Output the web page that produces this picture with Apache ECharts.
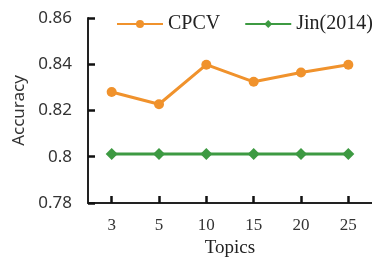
<!DOCTYPE html>
<html>
<head>
<meta charset="utf-8">
<script src="https://cdn.jsdelivr.net/npm/echarts@6/dist/echarts.min.js"></script>
<style>
  html, body { margin: 0; padding: 0; background: #fff; }
  #chart { width: 372px; height: 263px; }
</style>
</head>
<body>
<div id="chart"></div>
<script>
const topics = ['3', '5', '10', '15', '20', '25']
const cpcv = [0.828, 0.8227, 0.8398, 0.8324, 0.8364, 0.8398]
const jin = [0.8012, 0.8012, 0.8012, 0.8012, 0.8012, 0.8012]

const chart = echarts.init(document.getElementById('chart'), null, { renderer: 'canvas' })
chart.setOption({
  animation: false,
  grid: { left: 88, top: 18, width: 294, height: 190 },
  legend: {
    orient: 'horizontal',
    top: 14,
    left: 116,
    width: 300,
    padding: 0,
    itemGap: 24,
    itemWidth: 46,
    itemHeight: 10,
    textStyle: { fontFamily: 'Liberation Serif', fontSize: 20, color: '#222' },
    data: ['CPCV', 'Jin(2014)']
  },
  xAxis: {
    type: 'category',
    data: topics,
    name: 'Topics',
    nameLocation: 'middle',
    nameGap: 36,
    nameTextStyle: { fontFamily: 'Liberation Serif', fontSize: 19, color: '#222' },
    axisLine: { show: true, lineStyle: { color: '#222', width: 2 } },
    axisTick: { show: true, alignWithLabel: true, inside: true, length: 7, lineStyle: { color: '#111', width: 2.5 } },
    axisLabel: { fontFamily: 'Liberation Serif', fontSize: 17, color: '#333', margin: 14 }
  },
  yAxis: {
    type: 'value',
    min: 0.78,
    max: 0.86,
    interval: 0.02,
    name: 'Accuracy',
    nameLocation: 'middle',
    nameGap: 60,
    nameTextStyle: { fontFamily: 'Noto Sans', fontSize: 17, color: '#333' },
    axisLine: { show: true, lineStyle: { color: '#222', width: 2 } },
    axisTick: { show: true, inside: true, length: 7, lineStyle: { color: '#111', width: 2.5 } },
    splitLine: { show: false },
    axisLabel: {
      fontFamily: 'Noto Sans', fontSize: 17, color: '#333', margin: 16,
      formatter: v => String(+v.toFixed(2))
    }
  },
  series: [
    {
      name: 'CPCV',
      type: 'line',
      data: cpcv,
      symbol: 'circle',
      symbolSize: 10,
      itemStyle: { color: '#f0922c' },
      lineStyle: { color: '#f0922c', width: 3 }
    },
    {
      name: 'Jin(2014)',
      type: 'line',
      data: jin,
      symbol: 'diamond',
      symbolSize: 12,
      itemStyle: { color: '#3d9a42' },
      lineStyle: { color: '#3d9a42', width: 3 }
    }
  ]
})
</script>
</body>
</html>
